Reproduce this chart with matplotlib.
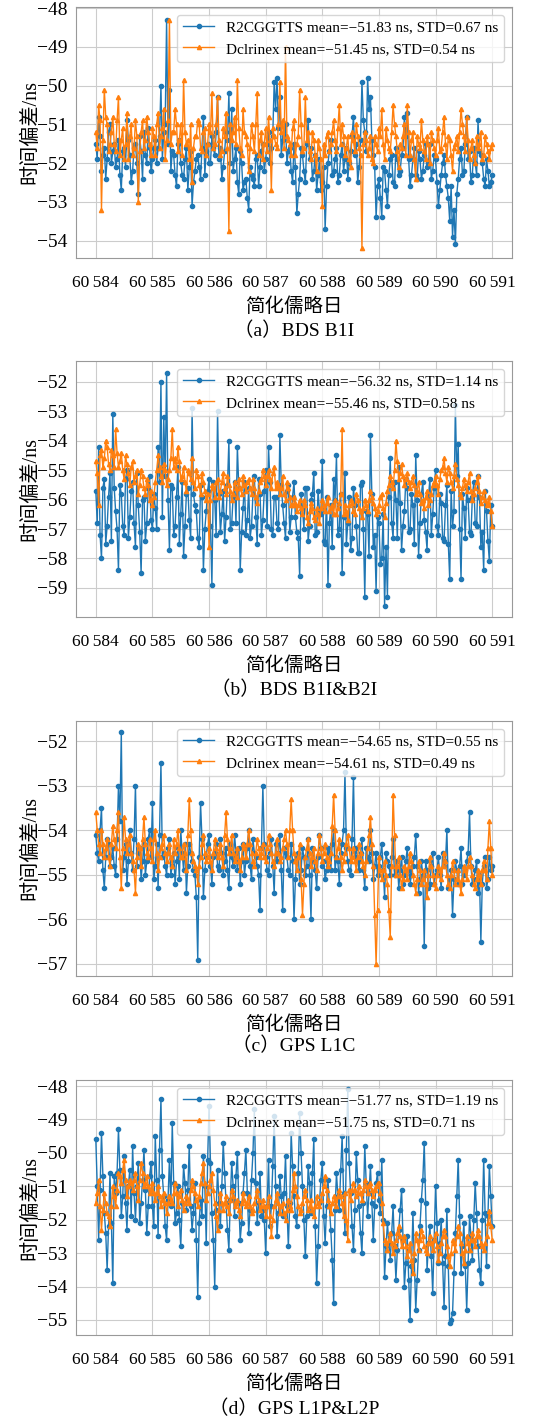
import numpy as np
import matplotlib
matplotlib.use("Agg")
import matplotlib.pyplot as plt
from matplotlib.ticker import MultipleLocator, FuncFormatter

# sampling grid: MJD 60584 .. 60591, 40 samples per day
mjd = np.linspace(60584, 60591, 281)

# every series is stored as the on-grid samples (even) and the half-step samples (odd)

# (a) BDS B1I
r2c_a_even = [-51.5, -50.8, -52.2, -51.6, -51.9, -51.0, -51.7, -52.1, -51.4, -52.7,
              -51.6, -50.9, -51.8, -52.2, -51.5, -52.8, -51.7, -51.2, -52.0, -51.6,
              -51.9, -51.4, -51.6, -50.0, -51.2, -48.3, -50.1, -51.7, -52.3, -51.5,
              -52.0, -52.4, -51.6, -52.1, -53.1, -52.2, -51.8, -52.4, -50.8, -51.7,
              -52.0, -51.3, -51.8, -50.3, -51.6, -52.1, -51.2, -50.2, -50.6, -51.9,
              -52.5, -51.7, -52.7, -52.4, -53.2, -52.3, -52.6, -51.8, -52.1, -51.5,
              -51.9, -51.2, -51.6, -49.9, -49.8, -50.3, -51.4, -51.0, -51.7, -52.2,
              -51.5, -53.3, -52.4, -51.8, -52.5, -50.9, -51.6, -52.2, -52.7, -51.9,
              -52.5, -53.7, -52.0, -51.4, -52.2, -51.6, -52.3, -51.5, -51.9, -52.4,
              -51.7, -50.8, -51.5, -52.1, -49.9, -51.2, -49.8, -50.3, -51.8, -53.4,
              -52.4, -53.4, -52.2, -53.1, -51.9, -52.5, -51.6, -52.3, -51.8, -50.8,
              -50.7, -52.6, -51.9, -52.3, -51.7, -52.4, -51.8, -52.1, -51.5, -52.2,
              -51.9, -53.1, -52.3, -51.8, -52.6, -53.5, -53.9, -54.1, -52.4, -51.6,
              -52.2, -50.8, -51.7, -52.3, -52.0, -50.9, -51.8, -52.4, -51.9, -52.6,
              -52.3]
r2c_a_odd = [-51.9, -51.3, -51.8, -52.4, -51.2, -52.0, -51.5, -51.9, -52.3, -51.7,
             -52.1, -51.4, -52.5, -51.6, -52.0, -51.3, -52.4, -51.8, -51.1, -52.2,
             -51.6, -52.0, -51.3, -51.9, -51.0, -51.5, -52.2, -51.8, -52.6, -51.4,
             -52.3, -51.9, -52.7, -51.7, -52.5, -51.9, -52.1, -51.6, -52.3, -51.5,
             -52.0, -51.6, -51.2, -51.9, -52.4, -51.7, -51.4, -52.0, -52.2, -51.6,
             -52.8, -52.0, -52.5, -52.9, -52.1, -52.4, -51.9, -52.6, -51.7, -52.2,
             -51.5, -52.0, -51.3, -50.6, -51.1, -51.8, -51.3, -52.0, -51.6, -52.5,
             -52.1, -52.8, -51.6, -52.2, -51.5, -51.9, -52.4, -51.8, -52.3, -52.7,
             -52.1, -52.6, -51.7, -52.3, -51.9, -52.5, -51.8, -52.2, -51.6, -52.0,
             -51.3, -51.8, -52.5, -51.4, -50.9, -51.7, -50.6, -51.4, -52.1, -52.6,
             -52.9, -52.1, -52.7, -52.3, -51.8, -52.6, -51.9, -52.2, -51.6, -51.3,
             -51.9, -52.3, -51.6, -52.4, -51.9, -52.2, -51.5, -52.0, -52.4, -51.8,
             -52.5, -52.7, -52.0, -52.3, -52.9, -52.6, -53.2, -52.8, -51.9, -52.3,
             -51.5, -51.9, -52.5, -51.6, -52.3, -51.7, -52.0, -52.6, -52.2, -52.5]
dcl_a_even = [-51.2, -50.5, -53.2, -50.1, -51.0, -51.5, -50.8, -51.7, -50.3, -51.4,
              -51.9, -50.7, -51.3, -51.8, -50.9, -53.0, -51.2, -51.6, -50.8, -51.5,
              -51.1, -51.8, -50.7, -51.3, -50.6, -51.4, -48.3, -51.2, -50.6, -51.7,
              -51.0, -49.85, -51.5, -51.9, -52.5, -51.3, -50.9, -51.6, -51.2, -51.8,
              -51.0, -50.2, -51.5, -50.3, -51.8, -51.1, -50.7, -53.75, -51.4, -50.8,
              -49.85, -51.6, -50.6, -51.3, -52.2, -51.0, -51.7, -50.2, -51.4, -51.9,
              -51.1, -50.8, -52.7, -51.3, -51.6, -49.9, -50.9, -49.0, -51.4, -51.8,
              -50.9, -51.5, -50.1, -51.7, -50.3, -51.2, -51.9, -51.4, -52.2, -51.6,
              -53.1, -51.8, -51.2, -51.5, -50.9, -51.7, -50.5, -51.0, -51.8, -51.3,
              -52.1, -51.4, -51.0, -51.6, -54.2, -51.2, -51.8, -51.3, -52.0, -51.5,
              -51.1, -50.6, -51.9, -51.4, -51.7, -50.5, -51.3, -52.1, -51.6, -51.0,
              -50.5, -51.8, -51.2, -52.4, -51.5, -50.9, -51.7, -51.3, -52.0, -51.4,
              -51.8, -51.1, -51.6, -50.8, -51.9, -51.4, -52.2, -51.5, -51.7, -50.6,
              -51.3, -50.8, -51.9, -51.4, -52.0, -51.6, -51.2, -51.8, -51.5, -51.9,
              -51.5]
dcl_a_odd = [-51.6, -50.9, -51.4, -50.8, -51.7, -51.2, -51.5, -50.9, -51.8, -51.1,
             -51.5, -51.9, -51.0, -51.6, -51.3, -51.7, -50.9, -51.4, -51.2, -51.8,
             -51.3, -51.0, -51.6, -51.1, -51.9, -50.9, -51.5, -51.2, -51.0, -51.4,
             -51.8, -51.2, -51.4, -51.0, -51.6, -51.3, -51.0, -51.7, -51.1, -51.5,
             -51.2, -51.6, -51.0, -51.4, -51.7, -51.3, -51.6, -51.0, -51.2, -51.5,
             -51.1, -51.8, -51.2, -51.5, -51.6, -51.3, -51.0, -51.8, -51.2, -51.5,
             -51.7, -51.4, -51.1, -51.5, -51.0, -51.2, -51.6, -51.3, -51.5, -51.1,
             -51.8, -51.3, -51.0, -51.6, -51.4, -51.7, -51.2, -51.8, -51.4, -51.9,
             -51.5, -51.3, -51.7, -51.2, -51.4, -51.1, -51.5, -51.3, -51.6, -51.9,
             -51.2, -51.7, -51.3, -51.8, -51.5, -51.4, -51.6, -51.9, -51.3, -51.7,
             -51.3, -51.5, -51.1, -51.6, -51.2, -51.0, -51.7, -51.5, -51.3, -51.8,
             -51.2, -51.4, -51.9, -51.3, -51.6, -51.4, -51.9, -51.5, -51.2, -51.6,
             -51.4, -51.7, -51.2, -51.5, -51.3, -51.8, -51.6, -51.3, -51.2, -51.0,
             -51.7, -51.4, -51.6, -51.8, -51.3, -51.5, -51.9, -51.3, -51.7, -51.6]

# (b) BDS B1I&B2I
r2c_b_even = [-55.7, -54.2, -58.0, -55.3, -56.9, -55.1, -53.1, -56.4, -58.4, -55.8,
              -57.2, -55.0, -56.6, -55.4, -57.6, -56.2, -58.5, -55.9, -56.8, -55.2,
              -57.0, -56.3, -54.2, -52.0, -53.2, -51.7, -57.7, -55.6, -56.9, -54.9,
              -56.5, -57.9, -55.8, -56.7, -52.9, -56.2, -57.3, -55.5, -58.4, -56.4,
              -55.3, -58.9, -56.0, -53.0, -57.1, -55.7, -56.6, -54.0, -56.8, -55.4,
              -54.2, -58.4, -56.3, -57.2, -55.6, -56.9, -55.2, -57.5, -55.8, -56.7,
              -55.0, -54.2, -57.0, -55.9, -56.8, -53.8, -56.2, -57.3, -55.5, -56.6,
              -55.4, -57.1, -58.6, -56.3, -55.6, -57.4, -56.0, -55.1, -57.1, -56.4,
              -54.7, -57.5, -58.9, -56.2, -55.3, -54.5, -57.0, -58.5, -55.1, -56.8,
              -57.7, -55.6, -56.9, -57.8, -55.4, -59.3, -56.5, -53.8, -57.6, -59.1,
              -56.8, -58.0, -59.6, -59.3, -54.6, -57.3, -56.0, -54.9, -57.7, -56.4,
              -55.6, -57.0, -56.2, -54.5, -57.9, -55.8, -56.7, -57.7, -55.3, -56.5,
              -55.0, -57.2, -56.1, -57.4, -55.5, -58.7, -56.9, -52.8, -54.1, -58.7,
              -56.3, -55.6, -57.1, -55.9, -56.8, -55.2, -57.6, -58.4, -56.4, -58.1,
              -56.9]
r2c_b_odd = [-56.8, -57.2, -55.6, -57.5, -55.9, -57.4, -55.6, -57.0, -55.5, -56.9,
             -55.3, -57.3, -55.7, -56.8, -55.1, -57.1, -56.0, -57.4, -55.6, -56.7,
             -55.8, -57.0, -55.4, -56.6, -55.2, -56.0, -55.5, -57.2, -55.9, -57.5,
             -55.4, -56.9, -55.6, -57.3, -55.8, -56.4, -57.6, -55.9, -57.0, -55.7,
             -56.9, -55.4, -57.2, -55.8, -56.5, -57.4, -55.5, -57.0, -55.9, -56.8,
             -55.6, -57.1, -55.4, -56.7, -57.3, -55.8, -56.6, -55.3, -57.2, -55.7,
             -56.9, -55.4, -57.2, -55.9, -57.0, -55.5, -56.8, -55.7, -57.1, -55.9,
             -56.6, -57.3, -55.8, -57.0, -55.6, -56.9, -55.8, -57.2, -55.7, -56.5,
             -57.4, -55.9, -56.8, -57.6, -56.0, -57.2, -55.8, -56.6, -57.5, -55.9,
             -57.3, -56.2, -57.8, -55.5, -57.0, -56.4, -57.9, -55.8, -57.2, -56.6,
             -58.2, -56.5, -57.6, -55.9, -56.8, -55.4, -57.3, -56.1, -56.9, -55.3,
             -57.1, -55.8, -57.5, -56.0, -56.8, -55.4, -57.1, -55.9, -57.2, -55.6,
             -56.9, -55.8, -57.3, -56.2, -57.5, -55.7, -56.4, -55.2, -57.0, -55.8,
             -57.3, -56.0, -57.2, -55.4, -56.9, -55.9, -57.1, -55.7, -57.4, -56.2]
dcl_b_even = [-54.7, -56.2, -54.3, -54.6, -54.2, -55.0, -54.5, -53.6, -54.9, -54.4,
              -55.3, -54.8, -55.5, -54.7, -55.2, -55.8, -55.0, -55.6, -55.3, -56.0,
              -56.2, -55.4, -54.5, -55.2, -54.8, -55.5, -55.0, -53.6, -54.6, -54.2,
              -55.3, -54.9, -55.7, -55.1, -54.6, -55.6, -55.2, -55.8, -55.4, -56.0,
              -57.6, -55.5, -55.9, -55.3, -55.7, -55.1, -55.8, -55.5, -56.0, -55.4,
              -55.9, -55.6, -55.2, -55.7, -55.3, -55.8, -55.6, -56.1, -55.4, -55.0,
              -55.5, -55.0, -55.6, -54.9, -55.4, -55.8, -55.2, -56.0, -55.6, -56.2,
              -55.9, -56.4, -56.0, -56.5, -56.2, -56.8, -56.1, -56.6, -56.3, -56.8,
              -56.0, -56.4, -55.9, -56.3, -56.5, -56.5, -56.1, -53.6, -56.2, -56.7,
              -56.0, -56.4, -55.8, -56.3, -56.6, -56.0, -56.4, -55.7, -56.1, -56.5,
              -56.2, -55.8, -56.6, -55.7, -55.2, -55.6, -54.0, -55.3, -54.8, -55.5,
              -55.1, -55.6, -55.2, -55.8, -55.4, -56.1, -56.3, -55.7, -56.0, -55.5,
              -55.2, -55.8, -55.0, -54.6, -55.4, -55.1, -55.6, -54.8, -55.5, -55.9,
              -55.3, -55.7, -55.1, -56.0, -55.6, -55.2, -56.1, -55.7, -56.2, -55.9,
              -56.9]
dcl_b_odd = [-55.1, -54.5, -54.9, -54.0, -54.8, -54.3, -54.9, -54.4, -54.7, -55.0,
             -54.5, -55.1, -54.9, -55.4, -55.0, -55.5, -55.2, -55.8, -55.5, -55.7,
             -55.9, -55.0, -54.9, -55.4, -55.0, -55.3, -54.6, -54.9, -55.0, -54.7,
             -55.2, -55.4, -55.0, -55.3, -55.4, -55.0, -55.5, -55.1, -55.7, -55.8,
             -56.0, -55.6, -55.4, -55.9, -55.4, -55.6, -55.2, -55.7, -55.8, -55.6,
             -55.3, -55.8, -55.5, -55.4, -55.6, -55.3, -55.9, -55.7, -55.3, -55.2,
             -55.2, -55.3, -55.1, -55.6, -55.5, -55.6, -55.8, -55.4, -55.9, -56.2,
             -56.1, -56.2, -56.3, -56.0, -56.6, -56.4, -56.3, -56.7, -56.5, -56.3,
             -56.2, -56.1, -56.4, -56.2, -56.0, -56.3, -55.8, -56.5, -56.4, -56.2,
             -56.1, -56.5, -56.0, -56.4, -56.3, -56.2, -56.0, -55.9, -56.3, -56.4,
             -55.9, -56.3, -56.1, -55.5, -55.4, -55.0, -54.7, -55.1, -55.2, -55.3,
             -55.4, -55.4, -55.5, -55.7, -55.8, -56.0, -55.9, -56.2, -55.8, -55.4,
             -55.5, -55.3, -54.9, -55.1, -54.9, -55.4, -55.2, -55.3, -55.8, -55.6,
             -55.5, -55.4, -55.7, -55.8, -55.4, -55.7, -55.9, -56.0, -56.1, -56.4]

# (c) GPS L1C
r2c_c_even = [-54.1, -54.7, -53.5, -55.3, -54.2, -54.8, -54.4, -55.0, -53.0, -51.8,
              -54.6, -55.2, -54.0, -54.9, -53.0, -54.5, -55.1, -54.3, -54.7, -54.0,
              -53.4, -54.8, -55.3, -52.5, -54.5, -55.0, -54.2, -54.8, -55.2, -54.4,
              -54.0, -54.9, -55.4, -54.3, -54.7, -55.0, -56.9, -53.4, -55.5, -54.6,
              -54.1, -55.2, -54.5, -54.8, -54.2, -55.0, -54.4, -55.3, -54.6, -54.1,
              -54.9, -55.2, -54.3, -54.7, -54.0, -55.1, -54.5, -54.8, -55.8, -53.0,
              -54.6, -55.0, -54.2, -55.4, -54.7, -54.1, -55.8, -54.5, -54.9, -54.3,
              -56.0, -54.6, -55.2, -54.4, -55.0, -54.2, -56.0, -54.7, -55.3, -54.1,
              -54.8, -55.1, -54.4, -54.9, -54.0, -54.6, -55.2, -54.3, -52.7, -54.7,
              -55.0, -52.8, -54.4, -54.9, -54.2, -55.3, -54.6, -54.0, -55.1, -54.5,
              -54.8, -54.3, -55.5, -54.7, -55.0, -54.2, -54.9, -55.3, -54.6, -55.0,
              -54.4, -55.2, -54.8, -54.1, -55.4, -54.7, -56.6, -54.9, -55.2, -54.5,
              -55.0, -54.6, -55.3, -54.8, -54.0, -55.1, -55.9, -54.7, -55.2, -54.4,
              -55.0, -54.7, -53.6, -55.2, -54.9, -55.4, -56.5, -54.8, -55.3, -54.6,
              -54.8]
r2c_c_odd = [-54.5, -54.0, -54.9, -54.6, -54.3, -54.6, -54.8, -54.2, -53.8, -54.9,
             -54.3, -54.7, -54.5, -54.2, -54.8, -54.4, -54.7, -55.0, -54.2, -54.6,
             -55.1, -54.3, -54.1, -54.6, -54.8, -54.4, -55.0, -54.5, -54.7, -55.1,
             -54.5, -54.3, -54.8, -54.5, -54.9, -55.5, -54.6, -54.2, -54.9, -54.3,
             -54.8, -54.6, -54.3, -54.9, -54.5, -54.7, -54.9, -54.3, -54.8, -54.5,
             -54.4, -54.7, -55.0, -54.4, -54.8, -54.2, -54.6, -55.0, -54.4, -54.3,
             -54.9, -54.5, -54.8, -54.3, -54.5, -54.9, -54.4, -54.6, -55.0, -54.7,
             -55.1, -54.5, -54.9, -54.6, -54.8, -55.0, -54.4, -54.9, -54.6, -54.4,
             -54.7, -54.9, -54.5, -54.3, -54.9, -54.7, -54.5, -54.0, -54.4, -54.9,
             -54.2, -54.6, -54.7, -54.5, -54.9, -54.4, -54.7, -54.5, -54.8, -55.0,
             -54.6, -54.9, -54.5, -54.8, -54.6, -55.0, -54.7, -54.9, -55.2, -54.7,
             -54.9, -55.0, -54.6, -54.8, -55.1, -55.0, -54.7, -55.3, -54.8, -55.2,
             -54.9, -55.0, -54.5, -54.7, -55.3, -54.9, -55.1, -54.9, -54.8, -55.2,
             -54.9, -54.5, -54.8, -55.1, -54.7, -55.0, -55.2, -54.6, -55.1, -54.9]
dcl_c_even = [-53.6, -54.3, -54.0, -54.6, -54.2, -54.8, -53.9, -54.4, -53.6, -55.3,
              -53.7, -54.5, -54.1, -54.7, -55.4, -54.3, -54.8, -53.7, -54.5, -54.2,
              -54.7, -54.0, -54.9, -54.4, -54.1, -54.7, -54.3, -54.8, -54.5, -54.0,
              -54.6, -54.3, -54.9, -53.3, -54.5, -54.8, -55.2, -54.6, -54.1, -54.7,
              -54.4, -54.9, -54.2, -54.6, -54.3, -54.8, -53.6, -54.5, -54.1, -54.7,
              -54.4, -54.9, -54.3, -54.6, -54.0, -54.5, -54.8, -54.2, -54.6, -54.3,
              -54.7, -54.1, -54.5, -54.8, -54.2, -54.7, -54.4, -54.0, -54.6, -53.3,
              -54.5, -54.9, -54.3, -55.9, -54.6, -54.2, -54.8, -54.4, -54.9, -54.1,
              -54.7, -54.3, -54.8, -54.5, -53.2, -54.6, -54.2, -54.9, -54.5, -54.1,
              -54.7, -54.4, -54.9, -54.3, -54.7, -55.0, -54.4, -53.7, -54.8, -57.0,
              -54.6, -55.1, -54.7, -55.2, -56.4, -53.2, -55.0, -54.6, -55.3, -54.8,
              -55.1, -54.5, -55.0, -55.4, -54.7, -55.2, -54.9, -55.5, -54.6, -55.0,
              -55.3, -54.8, -55.1, -54.5, -55.0, -55.3, -54.7, -55.2, -54.9, -55.4,
              -54.8, -55.1, -54.6, -55.0, -55.3, -54.9, -55.2, -54.7, -55.1, -53.8,
              -55.0]
dcl_c_odd = [-54.0, -54.5, -54.3, -54.4, -54.6, -54.3, -54.2, -54.0, -54.6, -54.4,
             -54.2, -54.3, -54.5, -54.9, -54.6, -54.4, -54.2, -54.3, -54.6, -54.4,
             -54.2, -54.5, -54.6, -54.3, -54.5, -54.5, -54.6, -54.2, -54.3, -54.4,
             -54.6, -54.5, -54.1, -54.0, -54.7, -54.9, -54.8, -54.3, -54.5, -54.6,
             -54.7, -54.5, -54.4, -54.5, -54.6, -54.1, -54.2, -54.4, -54.5, -54.6,
             -54.7, -54.6, -54.4, -54.3, -54.3, -54.7, -54.5, -54.4, -54.5, -54.6,
             -54.4, -54.3, -54.7, -54.5, -54.5, -54.6, -54.2, -54.3, -54.0, -54.0,
             -54.7, -54.6, -55.1, -55.2, -54.4, -54.5, -54.6, -54.7, -54.5, -54.4,
             -54.5, -54.6, -54.7, -53.9, -54.0, -54.4, -54.6, -54.7, -54.3, -54.4,
             -54.6, -54.7, -54.6, -54.5, -54.8, -54.7, -54.1, -54.3, -55.9, -55.8,
             -54.9, -54.9, -55.0, -55.8, -54.8, -54.1, -54.8, -55.0, -55.1, -54.9,
             -54.8, -54.7, -55.2, -55.1, -54.9, -55.1, -55.2, -55.0, -54.8, -55.2,
             -55.0, -54.9, -54.8, -54.7, -55.2, -55.0, -54.9, -55.1, -55.2, -55.1,
             -54.9, -54.8, -54.8, -55.2, -55.1, -55.0, -54.9, -54.9, -54.4, -54.4]

# (d) GPS L1P&L2P
r2c_d_even = [-49.6, -52.6, -49.4, -51.8, -53.5, -50.6, -53.9, -51.2, -49.3, -51.9,
              -50.1, -52.3, -50.5, -49.8, -52.0, -50.3, -51.5, -49.9, -52.4, -50.7,
              -51.6, -49.5, -52.5, -48.4, -51.3, -52.6, -50.2, -49.1, -52.1, -51.0,
              -52.8, -50.4, -51.7, -49.8, -52.3, -50.9, -54.3, -51.4, -50.1, -52.7,
              -48.6, -51.8, -54.0, -50.5, -52.2, -49.7, -51.5, -52.9, -50.3, -51.9,
              -50.0, -52.6, -51.2, -49.9, -52.4, -50.8, -48.7, -52.1, -50.6, -51.7,
              -53.0, -50.2, -51.6, -48.9, -52.5, -50.7, -51.9, -50.1, -52.8, -49.4,
              -51.3, -52.2, -48.8, -51.0, -53.1, -50.4, -51.8, -49.6, -53.9, -51.5,
              -50.3, -52.7, -50.8, -52.3, -54.5, -50.6, -51.7, -49.5, -52.4, -48.1,
              -51.2, -52.9, -50.0, -51.6, -53.0, -49.8, -51.9, -50.4, -52.6, -50.9,
              -51.4, -50.2, -53.7, -52.1, -53.2, -51.6, -53.8, -52.3, -51.1, -54.0,
              -52.5, -55.0, -51.8, -54.7, -52.9, -51.4, -49.7, -53.5, -52.2, -54.2,
              -51.0, -53.3, -52.0, -54.6, -51.7, -55.1, -54.8, -52.4, -50.2, -53.6,
              -52.1, -54.7, -51.9, -53.2, -50.9, -52.8, -53.9, -50.2, -53.4, -50.4,
              -52.2]
r2c_d_odd = [-51.0, -51.1, -50.7, -52.4, -52.2, -52.1, -50.7, -50.6, -50.5, -51.3,
             -51.5, -51.0, -51.9, -51.2, -51.0, -52.1, -50.8, -51.1, -51.6, -50.3,
             -52.2, -50.8, -49.9, -50.7, -52.2, -51.4, -51.6, -50.9, -51.8, -52.0,
             -51.5, -50.9, -51.1, -51.6, -51.8, -52.6, -52.1, -51.9, -51.0, -50.2,
             -50.3, -52.6, -51.7, -51.5, -51.0, -50.6, -52.3, -51.4, -51.0, -50.7,
             -51.5, -52.1, -50.6, -51.2, -51.7, -50.0, -50.9, -51.5, -51.9, -52.0,
             -51.6, -52.2, -50.4, -51.0, -51.8, -51.3, -51.2, -51.6, -51.5, -50.4,
             -51.9, -50.6, -50.0, -52.0, -51.9, -50.9, -50.6, -52.2, -52.8, -50.8,
             -51.9, -51.6, -51.6, -53.2, -51.7, -51.3, -50.5, -51.2, -49.9, -50.3,
             -52.2, -51.7, -50.8, -52.4, -51.5, -50.9, -51.2, -51.5, -51.6, -50.6,
             -51.8, -52.0, -52.8, -52.7, -52.4, -52.8, -52.9, -51.7, -52.6, -53.3,
             -53.8, -53.4, -53.2, -53.8, -52.2, -50.8, -51.5, -52.7, -53.1, -52.6,
             -52.1, -52.7, -53.3, -53.1, -53.4, -55.0, -53.6, -51.3, -51.9, -52.8,
             -53.4, -53.3, -52.5, -52.0, -51.8, -53.5, -52.0, -51.8, -51.9, -51.3]
dcl_d_even = [-51.5, -50.8, -52.3, -51.2, -51.8, -52.2, -51.0, -51.6, -50.6, -50.9,
              -50.2, -51.3, -50.8, -51.1, -50.6, -51.4, -50.3, -51.0, -50.7, -51.2,
              -50.9, -51.4, -51.0, -51.6, -51.2, -51.8, -51.3, -51.5, -50.9, -51.6,
              -51.1, -51.7, -51.3, -51.5, -50.8, -51.2, -51.6, -50.9, -50.3, -51.4,
              -51.0, -50.6, -51.5, -52.3, -51.2, -51.7, -51.3, -51.8, -51.1, -51.6,
              -51.4, -51.9, -51.2, -51.6, -51.3, -51.8, -51.5, -51.1, -51.7, -51.4,
              -51.9, -51.3, -52.5, -51.6, -51.2, -51.8, -51.5, -52.0, -51.4, -51.7,
              -50.6, -51.3, -51.8, -51.5, -51.1, -51.7, -51.4, -51.9, -51.3, -51.6,
              -51.2, -50.7, -51.4, -51.8, -51.3, -51.6, -51.1, -51.5, -51.2, -52.6,
              -51.4, -50.9, -51.3, -51.0, -51.4, -50.8, -51.2, -50.9, -51.3, -51.0,
              -50.9, -51.5, -52.6, -52.9, -52.4, -53.0, -52.6, -52.2, -52.8, -52.5,
              -53.1, -52.7, -53.6, -52.4, -52.9, -52.3, -52.8, -53.0, -52.5, -52.9,
              -52.4, -53.2, -52.7, -52.3, -52.8, -53.4, -52.6, -52.9, -52.2, -52.7,
              -53.3, -52.5, -52.9, -52.4, -52.8, -52.3, -52.7, -52.9, -52.5, -51.75,
              -52.6]
dcl_d_odd = [-51.2, -51.6, -51.7, -51.5, -51.9, -51.6, -51.3, -51.1, -50.7, -50.5,
             -50.8, -51.0, -50.9, -50.8, -51.0, -50.8, -50.6, -50.9, -51.0, -51.1,
             -51.2, -51.2, -51.3, -51.4, -51.5, -51.5, -51.4, -51.2, -51.2, -51.3,
             -51.4, -51.5, -51.4, -51.1, -51.0, -51.4, -51.3, -50.6, -50.9, -51.2,
             -50.8, -51.1, -51.9, -51.7, -51.5, -51.5, -51.6, -51.4, -51.3, -51.5,
             -51.7, -51.5, -51.4, -51.5, -51.6, -51.7, -51.3, -51.4, -51.6, -51.6,
             -51.6, -51.9, -52.0, -51.4, -51.5, -51.6, -51.8, -51.7, -51.6, -51.1,
             -51.0, -51.6, -51.7, -51.3, -51.4, -51.6, -51.7, -51.6, -51.5, -51.4,
             -51.0, -51.1, -51.6, -51.5, -51.4, -51.3, -51.3, -51.9, -52.0, -51.1,
             -51.1, -51.1, -51.2, -51.2, -51.1, -51.0, -51.0, -51.1, -51.1, -50.9,
             -51.2, -52.1, -52.7, -52.6, -52.7, -52.8, -52.4, -52.5, -52.6, -52.8,
             -52.9, -53.2, -53.0, -52.6, -52.6, -52.5, -52.9, -52.7, -52.7, -52.6,
             -52.8, -53.0, -52.5, -52.5, -53.1, -53.0, -52.7, -52.5, -52.4, -53.0,
             -52.9, -52.7, -52.6, -52.6, -52.5, -52.5, -52.8, -52.7, -52.1, -52.2]

r2c_series = [(r2c_a_even, r2c_a_odd), (r2c_b_even, r2c_b_odd),
              (r2c_c_even, r2c_c_odd), (r2c_d_even, r2c_d_odd)]
dcl_series = [(dcl_a_even, dcl_a_odd), (dcl_b_even, dcl_b_odd),
              (dcl_c_even, dcl_c_odd), (dcl_d_even, dcl_d_odd)]
r2c_labels = ["R2CGGTTS mean=\u221251.83 ns, STD=0.67 ns",
              "R2CGGTTS mean=\u221256.32 ns, STD=1.14 ns",
              "R2CGGTTS mean=\u221254.65 ns, STD=0.55 ns",
              "R2CGGTTS mean=\u221251.77 ns, STD=1.19 ns"]
dcl_labels = ["Dclrinex mean=\u221251.45 ns, STD=0.54 ns",
              "Dclrinex mean=\u221255.46 ns, STD=0.58 ns",
              "Dclrinex mean=\u221254.61 ns, STD=0.49 ns",
              "Dclrinex mean=\u221251.75 ns, STD=0.71 ns"]
captions = ["\uff08a\uff09BDS B1I", "\uff08b\uff09BDS B1I&B2I",
            "\uff08c\uff09GPS L1C", "\uff08d\uff09GPS L1P&L2P"]

FONTS = ["Liberation Serif", "Noto Sans CJK SC", "DejaVu Sans"]
plt.rcParams["font.family"] = FONTS
plt.rcParams["axes.unicode_minus"] = True

W, H = 544, 1422
# axes boxes in pixels: (top, bottom), plus y limits
boxes = [(7, 258), (361, 617), (721, 976), (1080, 1335)]
ylims = [(-54.45, -47.97), (-59.99, -51.29), (-57.27, -51.55), (-55.45, -47.82)]
cap_y = [331, 690, 1046, 1409]
left, right = 76, 512

fig = plt.figure(figsize=(W / 100, H / 100), dpi=100)


def merge(pair):
    even, odd = pair
    y = np.empty(len(even) + len(odd))
    y[0::2] = even
    y[1::2] = odd
    return y


def mjd_fmt(v, pos):
    v = int(round(v))
    return f"{v // 1000}\u2009{v % 1000:03d}"


for k in range(4):
    top, bot = boxes[k]
    ax = fig.add_axes([left / W, 1 - bot / H, (right - left) / W, (bot - top) / H])
    ax.plot(mjd, merge(r2c_series[k]), color="#1f77b4", marker="o", markersize=3,
            linewidth=1.0, label=r2c_labels[k])
    ax.plot(mjd, merge(dcl_series[k]), color="#ff7f0e", marker="^", markersize=3,
            linewidth=1.0, label=dcl_labels[k])
    ax.set_ylim(*ylims[k])
    ax.xaxis.set_major_locator(MultipleLocator(1))
    ax.yaxis.set_major_locator(MultipleLocator(1))
    ax.xaxis.set_major_formatter(FuncFormatter(mjd_fmt))
    ax.grid(True, color="#cccccc", linewidth=0.8)
    ax.set_axisbelow(True)
    for s in ax.spines.values():
        s.set_color("#999999")
        s.set_linewidth(0.8)
    ax.tick_params(axis="both", length=0)
    ax.tick_params(axis="y", labelsize=14, pad=6)
    ax.tick_params(axis="x", labelsize=12.5, pad=12)
    ax.set_xlabel("简化儒略日", fontsize=14, labelpad=5)
    ax.set_ylabel("时间偏差/ns", fontsize=14.5, labelpad=-2)
    ax.legend(loc="upper right", fontsize=11, framealpha=0.8,
              edgecolor="#cccccc", fancybox=True)
    fig.text((left + right) / 2 / W, 1 - cap_y[k] / H, captions[k],
             ha="center", va="center", fontsize=14)

fig.savefig("out.png", dpi=100)
